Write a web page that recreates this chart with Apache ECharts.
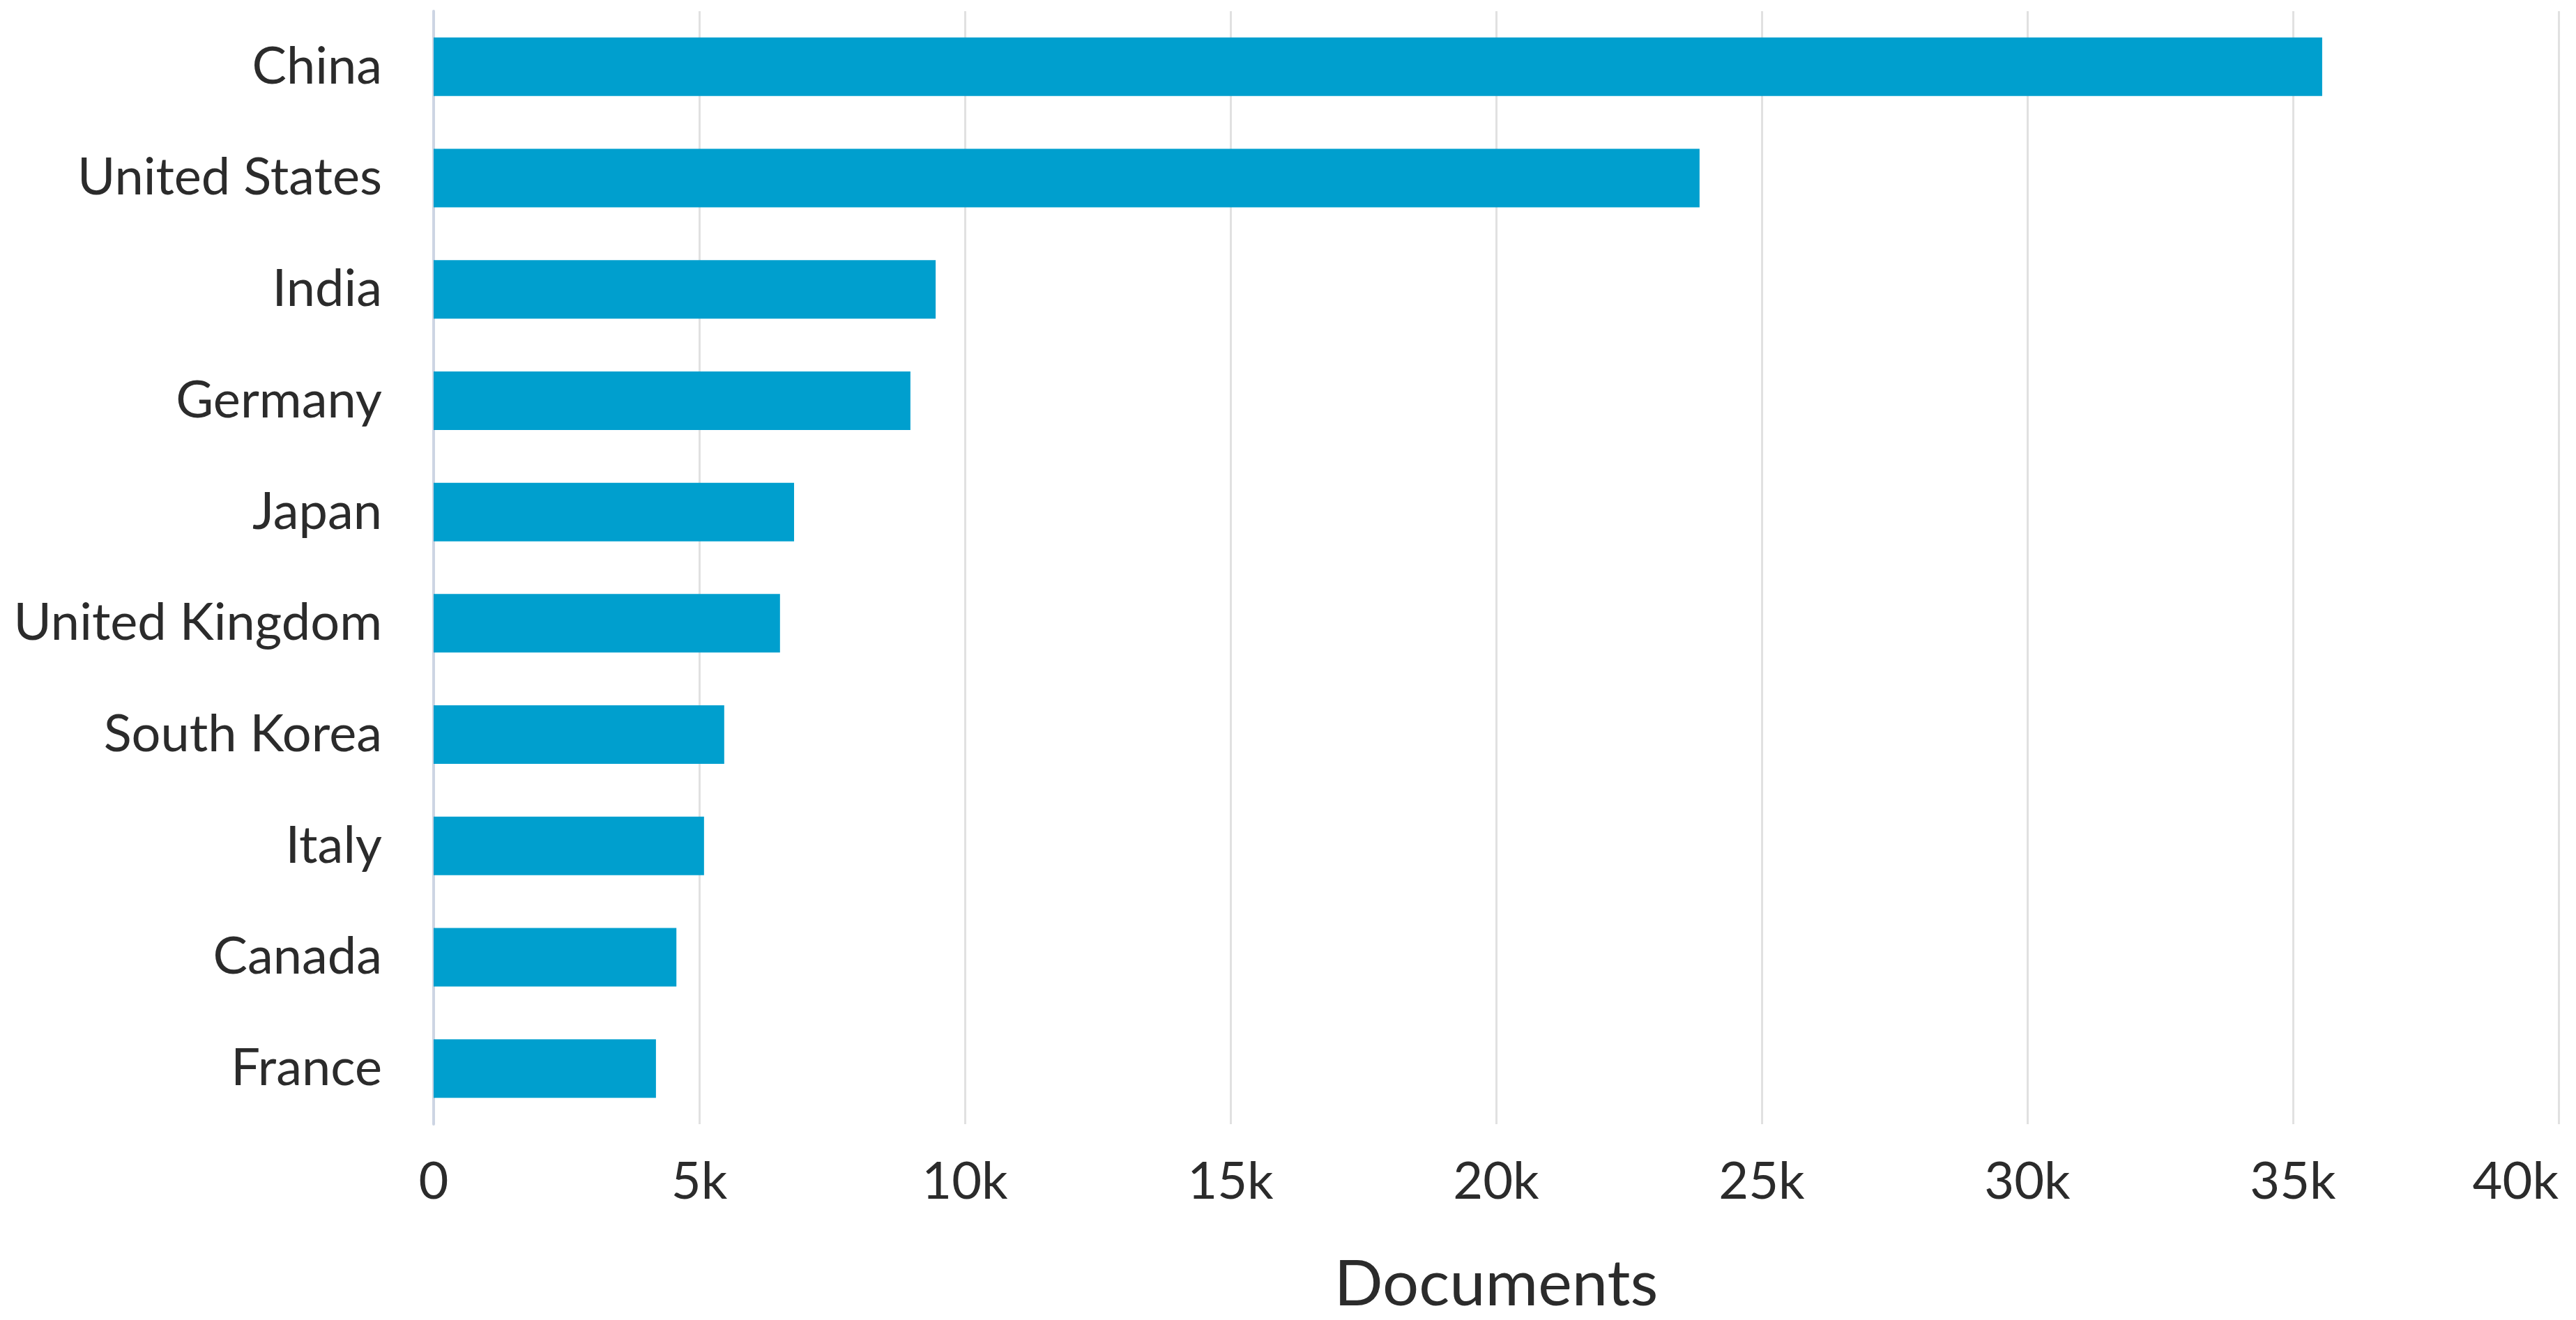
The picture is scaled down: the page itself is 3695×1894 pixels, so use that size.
<!DOCTYPE html>
<html>
<head>
<meta charset="utf-8">
<script src="https://cdn.jsdelivr.net/npm/echarts@6/dist/echarts.min.js"></script>
<style>
html,body{margin:0;padding:0;background:#fff;}
#chart{width:3695px;height:1894px;}
</style>
</head>
<body>
<div id="chart"></div>
<script>
const countries = ["China","United States","India","Germany","Japan","United Kingdom","South Korea","Italy","Canada","France"];
const documents = [35550, 23830, 9450, 8975, 6785, 6520, 5470, 5090, 4570, 4185];
const xTicks = ["0","5k","10k","15k","20k","25k","30k","35k","40k"];
const axisTitle = "Documents";

const chart = echarts.init(document.getElementById('chart'), null, {renderer:'canvas'});
const font = 'Lato, "Noto Sans", sans-serif';
chart.setOption({
  backgroundColor:'#ffffff',
  animation:false,
  grid:{left:622, right:25, top:16, bottom:281, containLabel:false, outerBoundsMode:'none'},
  xAxis:{
    type:'value', min:0, max:40000, interval:5000,
    name:axisTitle, nameLocation:'middle', nameGap:184,
    nameTextStyle:{fontFamily:font, fontSize:92, color:'#2b2b2b', verticalAlign:'top'},
    axisLine:{show:false}, axisTick:{show:false},
    axisLabel:{fontFamily:font, fontSize:74, color:'#2b2b2b', margin:46, alignMaxLabel:'right',
      formatter:function(v){ return xTicks[Math.round(v/5000)]; }},
    splitLine:{show:true, lineStyle:{color:'#e1e1e1', width:3}}
  },
  yAxis:{
    type:'category', data:countries, inverse:true,
    axisLine:{show:true, lineStyle:{color:'#cdd5e3', width:4}},
    axisTick:{show:false},
    axisLabel:{fontFamily:font, fontSize:74, color:'#2b2b2b', margin:74}
  },
  series:[{
    type:'bar', data:documents, barWidth:84,
    itemStyle:{color:'#009fce'}
  }]
});
</script>
</body>
</html>
